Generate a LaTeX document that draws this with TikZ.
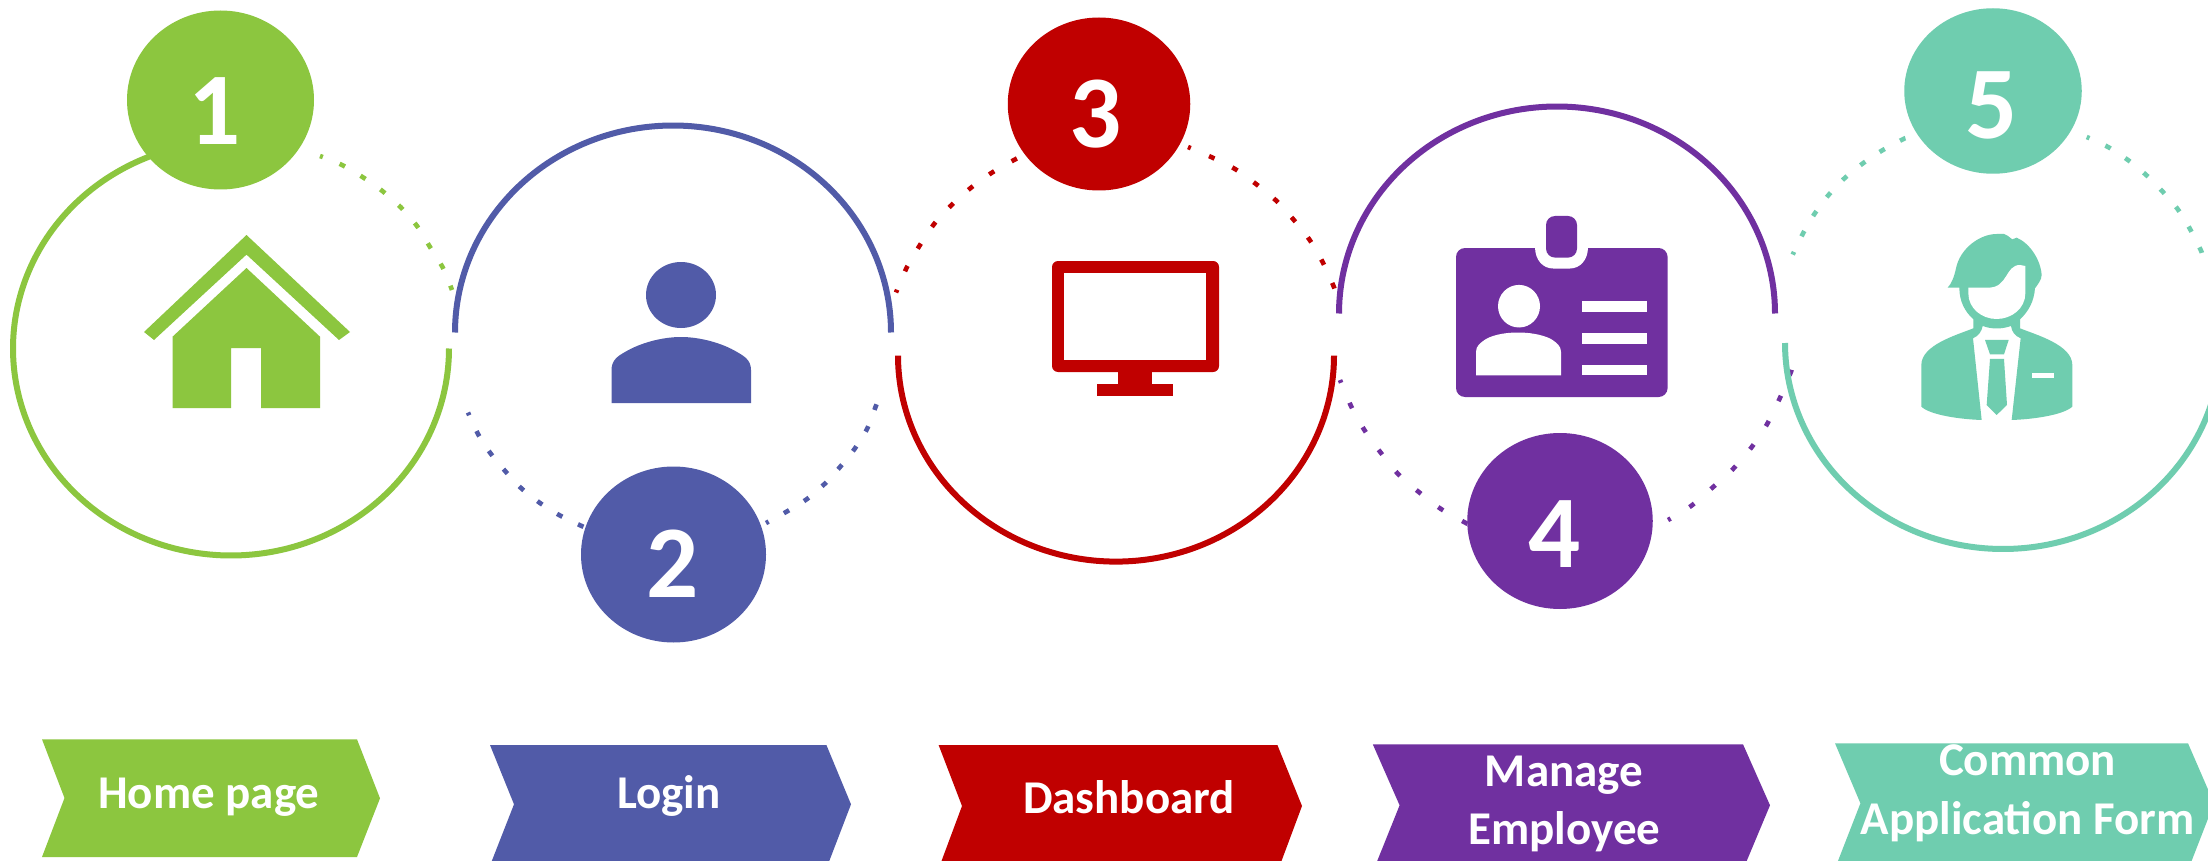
\documentclass[tikz,border=0pt]{standalone}
\usepackage{fontspec}
\setmainfont{Carlito}
\usetikzlibrary{shapes.geometric}
\definecolor{cgreen}{HTML}{8CC63F}
\definecolor{cblue}{HTML}{515BA8}
\definecolor{cred}{HTML}{C00000}
\definecolor{cpurple}{HTML}{7030A0}
\definecolor{cteal}{HTML}{6FCDAF}
\newcommand{\ringarc}[7]{\draw[ring,#1] plot[domain=#6:#7,samples=140,smooth] ({#2+#4*cos(\x)},{#3+#5*sin(\x)});}
\tikzset{
  ring/.style={line width=6pt},
  dots/.style={line width=4.6pt,dash pattern=on 6pt off #1,dash phase=3pt},
  badge/.style={ellipse,inner sep=0pt,draw=none},
  digit/.style={text=white,font=\fontsize{103}{103}\selectfont\bfseries,inner sep=0pt,anchor=base},
  label/.style={text=white,font=\fontsize{47}{47}\selectfont\bfseries,inner sep=0pt,anchor=base},
}
\begin{document}
\begin{tikzpicture}[x=1pt,y=-1pt]
\useasboundingbox (0,0) rectangle (2208,861);
\clip (0,0) rectangle (2208,861);
\fill[white] (0,0) rectangle (2208,861);

% dotted arcs
\draw[dots=18.1pt,cgreen] plot[smooth] coordinates {(320,156)(342,165)(364,178)(383,191.5)(401,207.5)(417,226)(430,247)(443,268)(452,290)};
\draw[dots=17.4pt,cblue] plot[smooth] coordinates {(468,412.5)(478,434)(491,454)(506,472)(521,488)(540,503)(560,515.5)(581,525.7)(585,527.5)};
\draw[dots=17.4pt,cblue] plot[smooth] coordinates {(766,523)(786,512)(807,499)(824.5,484)(840,467)(854.5,449)(867,429)(875.5,407)(877,403)};
\draw[dots=20pt,cred] plot[smooth] coordinates {(896,292.5)(907,267)(920,245)(934.5,223.5)(952,204.5)(971,187.7)(992,172.6)(1014,160)(1018,158)};
\draw[dots=19.9pt,cred] plot[smooth] coordinates {(1188,147)(1212,157.4)(1235,169)(1256,184)(1275.5,200)(1293,219)(1309,239)(1322.6,262)(1333.5,286)(1335,291)};
\draw[dots=21.7pt,cpurple] plot[smooth] coordinates {(1340,380)(1351,406)(1365,431)(1381,453)(1399,475)(1420,493)(1441,509)(1464,522)(1468,524)};
\draw[dots=22pt,cpurple] plot[smooth] coordinates {(1668,520)(1691,506)(1712,488)(1733,469)(1751,448)(1766,426)(1779,400)(1790.7,372.5)(1792,368)};
\draw[dots=17.3pt,cteal] plot[smooth] coordinates {(1792.7,254.6)(1802.7,234)(1814,214.6)(1827.7,196)(1843.7,179)(1862,164)(1881.7,150.7)(1902,139.7)(1906,138)};
\draw[dots=17.5pt,cteal] plot[smooth] coordinates {(2086.7,137)(2108,147)(2129,160.8)(2146.7,175.5)(2163,192)(2178,209.6)(2190,229)(2200.7,250)(2202,254)};

% solid arcs
\ringarc{cgreen}{231}{348.5}{218}{207}{0}{248}
\ringarc{cblue}{673}{332.5}{218}{207}{180}{360}
\ringarc{cred}{1116}{355.6}{218}{206}{0}{180}
\ringarc{cpurple}{1557}{313.5}{218}{207}{180}{360}
\ringarc{cteal}{2003}{343}{218}{206}{0}{180}

% badges
\node[badge,fill=cgreen,minimum width=187pt,minimum height=179pt] (b1) at (220.5,100) {};
\node[badge,fill=cblue,minimum width=185pt,minimum height=176pt] (b2) at (673.5,554.5) {};
\node[badge,fill=cred,minimum width=182.5pt,minimum height=173pt] (b3) at (1099,104) {};
\node[badge,fill=cpurple,minimum width=185.5pt,minimum height=176pt] (b4) at (1560,521) {};
\node[badge,fill=cteal,minimum width=177.5pt,minimum height=165.5pt] (b5) at (1993,91) {};
\node[digit] (d1) at (215,145) {1};
\node[digit] (d2) at (673,597) {2};
\node[digit] (d3) at (1096,148) {3};
\node[digit] (d4) at (1555,567) {4};
\node[digit] (d5) at (1992,139) {5};

% house
\fill[cgreen] (246.5,235) -- (350,332) -- (339,340) -- (246.5,254.6) -- (154,340) -- (144,332) -- cycle;
\fill[cgreen] (246.5,268) -- (320,336.7) -- (320,408) -- (261,408) -- (261,348) -- (231,348) -- (231,408) -- (172.5,408) -- (172.5,336.7) -- cycle;

% person
\fill[cblue] (681,295) ellipse [x radius=35,y radius=33];
\fill[cblue] (611.5,403) -- (611.5,370) .. controls (611.5,360) and (618,356) .. (625,352) .. controls (640,343) and (662,337) .. (681,337) .. controls (700,337) and (722,343) .. (737,352) .. controls (744,356) and (751,360) .. (751,370) -- (751,403) -- cycle;

% monitor
\fill[cred,rounded corners=6pt] (1052,261) rectangle (1219,372);
\fill[white] (1064,272.7) rectangle (1206,360);
\fill[cred] (1118,370) rectangle (1151.5,385);
\fill[cred] (1097,384) rectangle (1173,396);

% id card
\fill[cpurple,rounded corners=9pt] (1456,248) rectangle (1667.6,397);
\fill[white] (1535,247) .. controls (1535,260) and (1543,268.5) .. (1553,268.5) -- (1570,268.5) .. controls (1580,268.5) and (1588,260) .. (1588,247) -- cycle;
\fill[cpurple,rounded corners=9pt] (1546,216) rectangle (1577,257.6);
\fill[white] (1519,306.2) ellipse [x radius=21,y radius=21.3];
\fill[white] (1476,375.4) -- (1476,352) .. controls (1476,346) and (1480,343) .. (1486,339) .. controls (1495,334) and (1508,332.5) .. (1518,332.5) .. controls (1528,332.5) and (1541,334) .. (1551,339) .. controls (1557,343) and (1561,346) .. (1561,352) -- (1561,375.4) -- cycle;
\fill[white] (1582,301) rectangle (1647,312);
\fill[white] (1582,333) rectangle (1647,344);
\fill[white] (1582,365) rectangle (1647,375.4);

% employee
\begin{scope}[shift={(1880,200)},x=0.3333pt,y=-0.3333pt]
\fill[cteal] (203,263) .. controls (215,250) and (222,232) .. (228,205) .. controls (240,145) and (300,102) .. (350,102) -- (372,102) .. controls (380,103) and (385,110) .. (397,118) -- (410,113) .. controls (450,130) and (482,180) .. (485,225) .. controls (485,240) and (472,255) .. (465,265) .. controls (462,305) and (445,335) .. (420,358) -- (420,385) .. controls (470,405) and (577,435) .. (577,495) -- (577,620) .. controls (550,645) and (460,658) .. (395,660) -- (422,415) .. controls (405,408) and (395,395) .. (393,378) .. controls (365,388) and (335,388) .. (308,378) .. controls (305,395) and (295,408) .. (279,415) -- (305,660) .. controls (240,658) and (150,645) .. (124,620) -- (124,495) .. controls (124,435) and (230,405) .. (280,385) -- (280,358) .. controls (255,335) and (238,305) .. (238,263) -- cycle;
\fill[white] (265,263) -- (325,263) .. controls (385,263) and (375,195) .. (420,195) -- (436,198) -- (436,280) .. controls (436,325) and (395,357) .. (350,357) .. controls (305,357) and (265,325) .. (265,280) -- cycle;
\fill[cteal] (315,420) -- (386,420) -- (372,463) -- (330,463) -- cycle;
\fill[cteal] (330,477) -- (372,477) -- (381,615) -- (350,645) -- (320,615) -- cycle;
\fill[white] (457,519) rectangle (521,534);
\end{scope}

% chevrons
\fill[cgreen] (42,739.3) -- (357,739.3) -- (380,798.3) -- (357,857) -- (42,857) -- (64.5,798) -- cycle;
\fill[cblue] (490,745) -- (826.4,745) -- (851,804.3) -- (828.5,863) -- (491,863) -- (514,804.3) -- cycle;
\fill[cred] (938.6,745) -- (1277.4,745) -- (1302,806) -- (1280,865) -- (940,865) -- (962,806) -- cycle;
\fill[cpurple] (1372.8,744.3) -- (1743,744.3) -- (1770,805.3) -- (1745,865) -- (1375.6,865) -- (1399.6,805.3) -- cycle;
\fill[cteal] (1835,743.3) -- (2188,743.3) -- (2214,803.3) -- (2190,865) -- (1836.4,865) -- (1860.4,803.3) -- cycle;

% labels
\node[label] (l1) at (208.8,808.7) {Home page};
\node[label] (l2) at (668.8,808.7) {Login};
\node[label] (l3) at (1129,813) {Dashboard};
\node[label] (l4a) at (1564,786) {Manage};
\node[label] (l4b) at (1564.5,844) {Employee};
\node[label] (l5a) at (2027.6,775) {Common};
\node[label] (l5b) at (2027.5,834) {Application Form};
\end{tikzpicture}
\end{document}
